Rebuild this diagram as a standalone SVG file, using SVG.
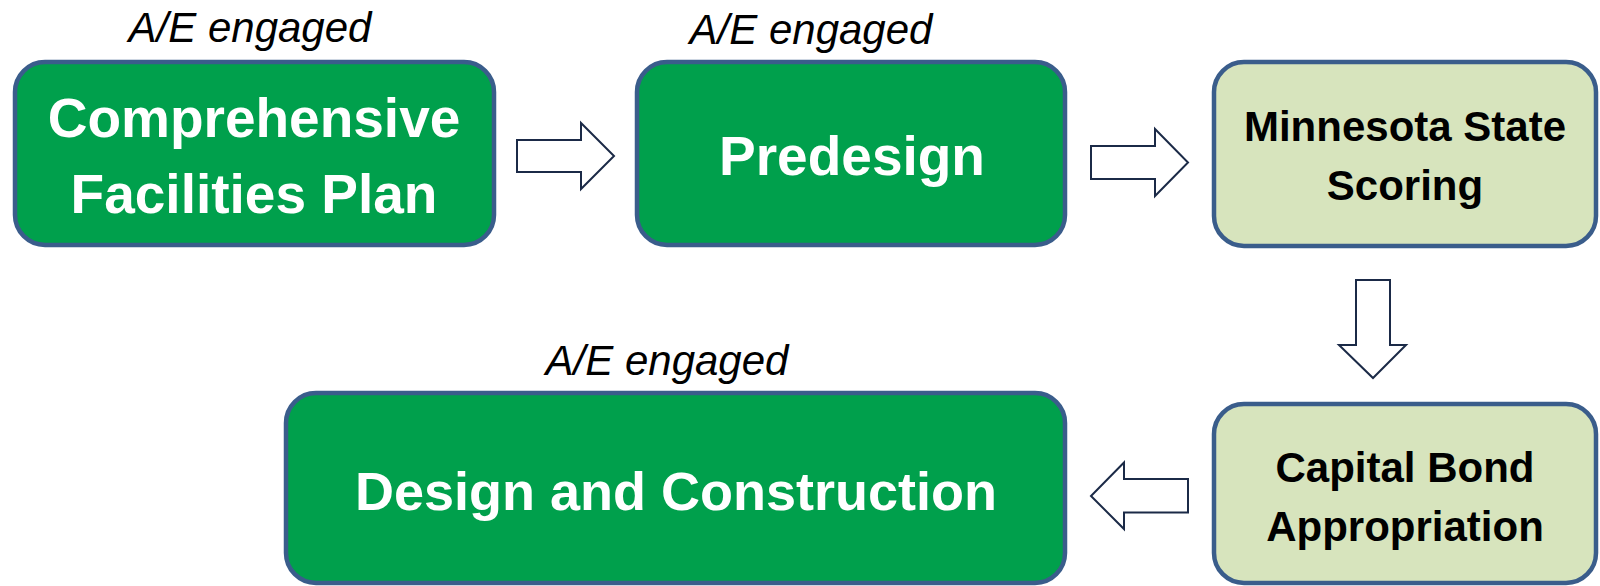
<svg xmlns="http://www.w3.org/2000/svg" width="1600" height="586" viewBox="0 0 1600 586">
<style>
.green{fill:#00A04C;stroke:#3A5D8B;stroke-width:4.5}
.light{fill:#D7E4BD;stroke:#3A5D8B;stroke-width:4.5}
.wt{font-family:"Liberation Sans",Arial,sans-serif;font-weight:bold;font-size:55px;fill:#FFFFFF;text-anchor:middle}
.bt{font-family:"Liberation Sans",Arial,sans-serif;font-weight:bold;font-size:42px;fill:#000000;text-anchor:middle}
.lab{font-family:"Liberation Sans",Arial,sans-serif;font-style:italic;font-size:42px;fill:#000000;text-anchor:middle}
.arr{fill:#FFFFFF;stroke:#1B2A47;stroke-width:2;stroke-linejoin:miter}
</style>
<rect width="1600" height="586" fill="#FFFFFF"/>
<g id="labels">
<text class="lab" x="250" y="42">A/E engaged</text>
<text class="lab" x="811" y="44">A/E engaged</text>
<text class="lab" x="667" y="375">A/E engaged</text>
</g>
<g id="node-cfp">
<rect class="green" x="15" y="62" width="479" height="183" rx="30"/>
<text class="wt" x="254" y="137">Comprehensive</text>
<text class="wt" x="254" y="213">Facilities Plan</text>
</g>
<g id="node-predesign">
<rect class="green" x="637" y="62" width="428" height="183" rx="30"/>
<text class="wt" x="852" y="175">Predesign</text>
</g>
<g id="node-scoring">
<rect class="light" x="1214" y="62" width="382" height="184" rx="30"/>
<text class="bt" x="1405" y="141">Minnesota State</text>
<text class="bt" x="1405" y="200">Scoring</text>
</g>
<g id="node-bond">
<rect class="light" x="1214" y="404" width="382" height="179" rx="30"/>
<text class="bt" x="1405" y="482">Capital Bond</text>
<text class="bt" x="1405" y="541">Appropriation</text>
</g>
<g id="node-design">
<rect class="green" x="286" y="393" width="779" height="190" rx="30"/>
<text class="wt" x="676" y="510" style="font-size:54px">Design and Construction</text>
</g>
<g id="connectors">
<polygon class="arr" points="517,140 581,140 581,123 614,156 581,189 581,172 517,172"/>
<polygon class="arr" points="1091,146 1155,146 1155,129 1188,162.5 1155,196 1155,179 1091,179"/>
<polygon class="arr" points="1356,280 1390,280 1390,345 1406,345 1373,378 1339,345 1356,345"/>
<polygon class="arr" points="1188,479 1124,479 1124,462.5 1091,496 1124,529 1124,512.5 1188,512.5"/>
</g>
</svg>
